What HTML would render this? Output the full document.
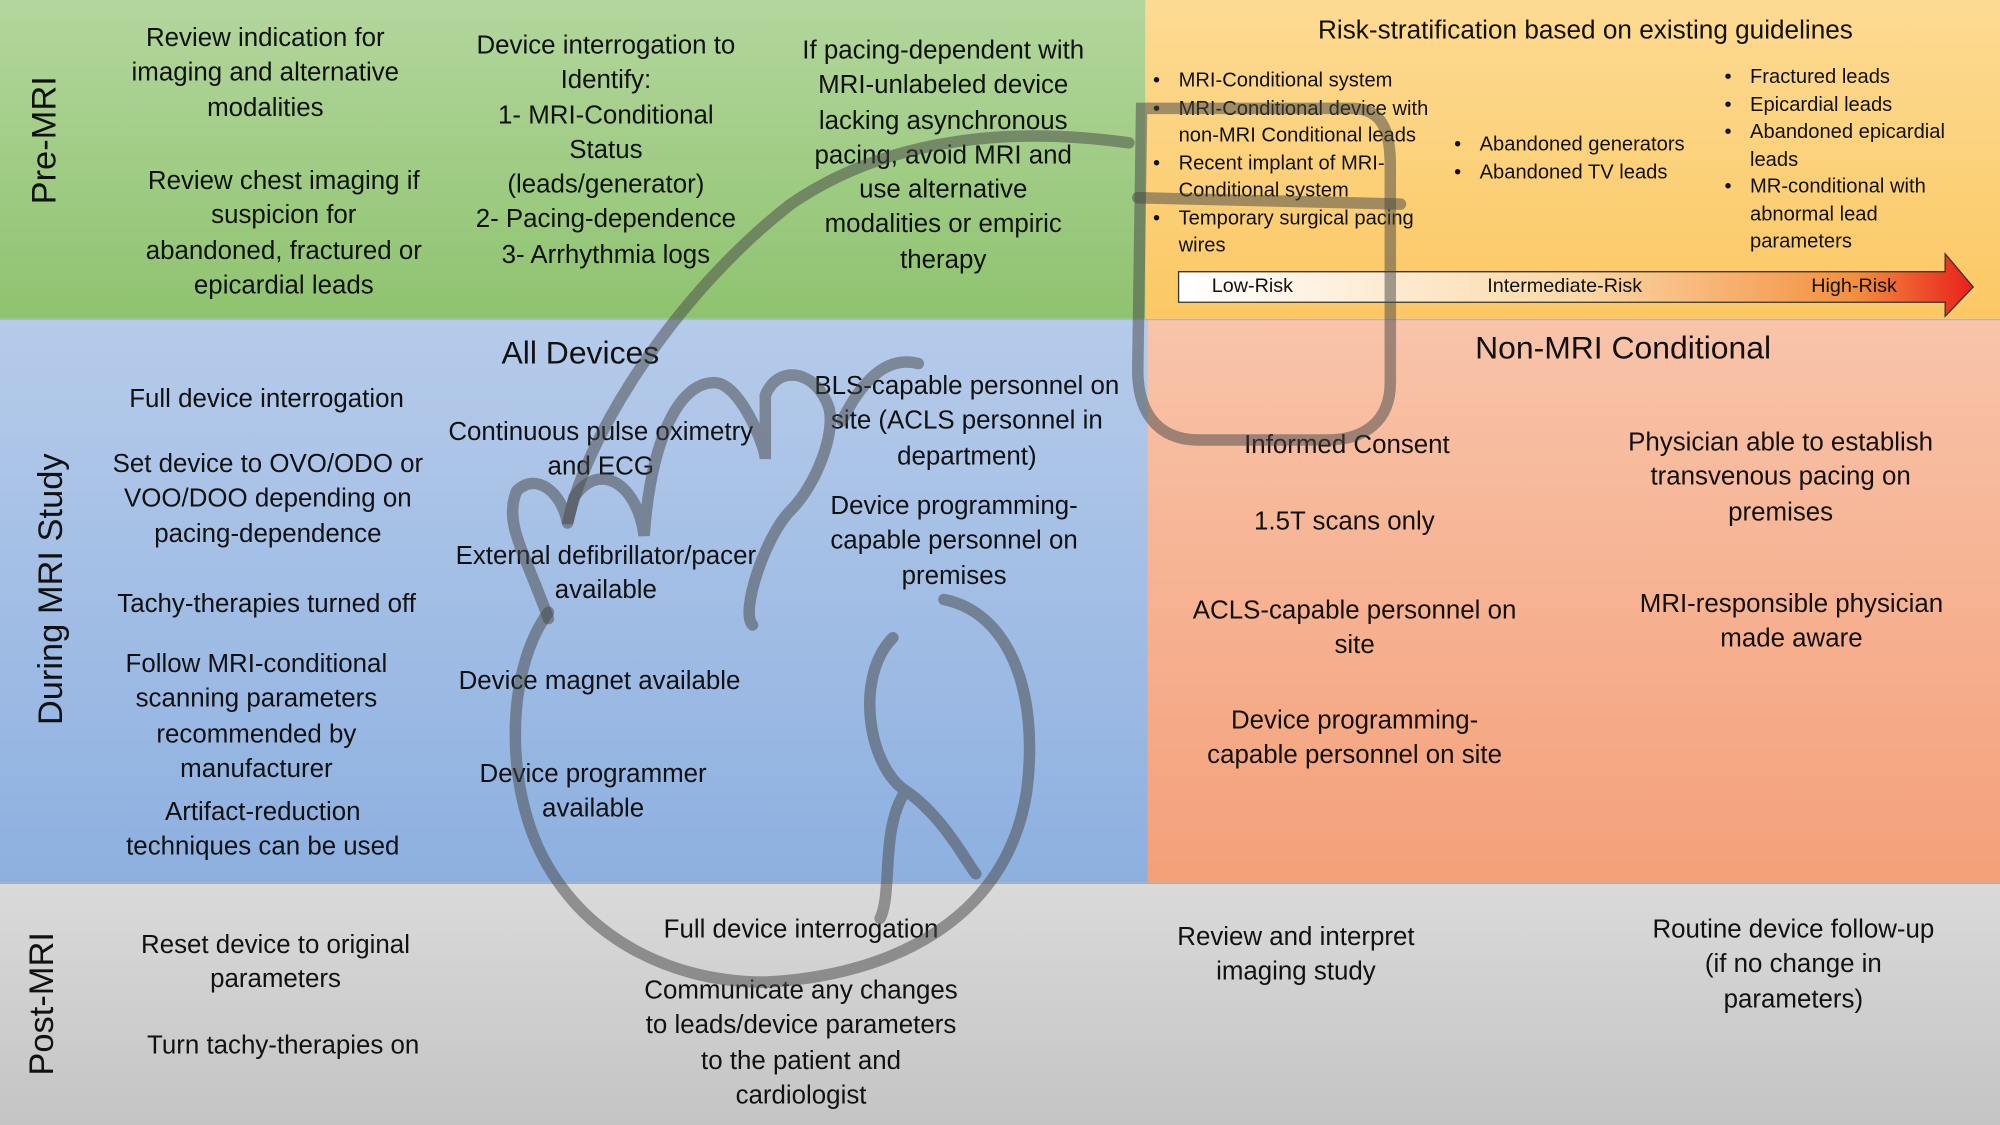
<!DOCTYPE html>
<html><head><meta charset="utf-8"><style>
html,body{margin:0;padding:0;width:2000px;height:1125px;overflow:hidden;background:#fff}
#c{position:absolute;left:0;top:0;width:1568px;height:882px;transform:scale(1.27551);transform-origin:0 0;font-family:"Liberation Sans",sans-serif;color:#111}
.r{position:absolute}
.t{position:absolute;text-align:center;font-size:20.3px;line-height:27.3px;white-space:nowrap}
.b{position:absolute;font-size:15.8px;line-height:21.5px;margin:0;padding-left:20px;list-style:none;white-space:nowrap}
.b li{position:relative}
.b li:before{content:"•";position:absolute;left:-20px}
.v{position:absolute;font-size:27px;transform:translate(-50%,-50%) rotate(-90deg);white-space:nowrap}
</style></head><body><div id="c">
<div class="r" style="left:0;top:0;width:898px;height:250px;background:linear-gradient(#b3d69d,#8fc36f)"></div>
<div class="r" style="left:898px;top:0;width:670px;height:250px;background:linear-gradient(#fddb93,#fbc864)"></div>
<div class="r" style="left:0;top:250px;width:900px;height:442px;background:linear-gradient(#b6cbea,#8db0e0)"></div>
<div class="r" style="left:900px;top:250px;width:668px;height:442px;background:linear-gradient(#f8c4aa,#f4a079)"></div>
<div class="r" style="left:0;top:692px;width:1568px;height:190px;background:linear-gradient(#dadada,#c4c4c4)"></div>
<div class="r" style="left:0;top:250px;width:1568px;height:1px;background:#9fb9d9"></div>
<div class="r" style="left:0;top:692px;width:1568px;height:1px;background:#a8a8a8"></div>

<div class="v" style="left:35px;top:110px">Pre-MRI</div>
<div class="v" style="left:40px;top:462px">During MRI Study</div>
<div class="v" style="left:33px;top:787px">Post-MRI</div>

<div class="t" style="left:88px;top:17px;width:240px">Review indication for<br>imaging and alternative<br>modalities</div>
<div class="t" style="left:100px;top:129px;width:245px">Review chest imaging if<br>suspicion for<br>abandoned, fractured or<br>epicardial leads</div>
<div class="t" style="left:355px;top:23px;width:240px">Device interrogation to<br>Identify:<br>1- MRI-Conditional<br>Status<br>(leads/generator)<br>2- Pacing-dependence<br>3- Arrhythmia logs</div>
<div class="t" style="left:612px;top:27px;width:255px">If pacing-dependent with<br>MRI-unlabeled device<br>lacking asynchronous<br>pacing, avoid MRI and<br>use alternative<br>modalities or empiric<br>therapy</div>

<div class="t" style="left:900px;top:10px;width:686px;font-size:20.5px">Risk-stratification based on existing guidelines</div>
<ul class="b" style="left:904px;top:53px;width:220px"><li>MRI-Conditional system</li><li>MRI-Conditional device with<br>non-MRI Conditional leads</li><li>Recent implant of MRI-<br>Conditional system</li><li>Temporary surgical pacing<br>wires</li></ul>
<ul class="b" style="left:1140px;top:103px;width:200px"><li>Abandoned generators</li><li>Abandoned TV leads</li></ul>
<ul class="b" style="left:1352px;top:50px;width:200px"><li>Fractured leads</li><li>Epicardial leads</li><li>Abandoned epicardial<br>leads</li><li>MR-conditional with<br>abnormal lead<br>parameters</li></ul>
<svg class="r" style="left:0;top:0" width="1568" height="882">
<defs><linearGradient id="g" x1="0" x2="1"><stop offset="0" stop-color="#fff"/><stop offset="0.5" stop-color="#fbd9a8"/><stop offset="0.85" stop-color="#f39040"/><stop offset="1" stop-color="#e8201a"/></linearGradient></defs>
<polygon points="924,213 1525,213 1525,199 1547,225 1525,248 1525,237 924,237" fill="url(#g)" stroke="#333" stroke-width="1"/>
</svg>
<div class="r" style="left:950px;top:216px;font-size:15.5px">Low-Risk</div>
<div class="r" style="left:1166px;top:216px;font-size:15.5px">Intermediate-Risk</div>
<div class="r" style="left:1420px;top:216px;font-size:15.5px">High-Risk</div>

<div class="t" style="left:355px;top:264px;width:200px;font-size:25px">All Devices</div>
<div class="t" style="left:1100px;top:260px;width:345px;font-size:25px">Non-MRI Conditional</div>

<div class="t" style="left:80px;top:300px;width:258px">Full device interrogation</div>
<div class="t" style="left:80px;top:351px;width:260px">Set device to OVO/ODO or<br>VOO/DOO depending on<br>pacing-dependence</div>
<div class="t" style="left:78px;top:461px;width:262px">Tachy-therapies turned off</div>
<div class="t" style="left:80px;top:508px;width:242px">Follow MRI-conditional<br>scanning parameters<br>recommended by<br>manufacturer</div>
<div class="t" style="left:80px;top:624px;width:252px">Artifact-reduction<br>techniques can be used</div>

<div class="t" style="left:340px;top:326px;width:262px">Continuous pulse oximetry<br>and ECG</div>
<div class="t" style="left:340px;top:423px;width:270px">External defibrillator/pacer<br>available</div>
<div class="t" style="left:340px;top:521px;width:260px">Device magnet available</div>
<div class="t" style="left:350px;top:594px;width:230px">Device programmer<br>available</div>
<div class="t" style="left:632px;top:290px;width:252px">BLS-capable personnel on<br>site (ACLS personnel in<br>department)</div>
<div class="t" style="left:632px;top:384px;width:232px">Device programming-<br>capable personnel on<br>premises</div>

<div class="t" style="left:940px;top:336px;width:232px">Informed Consent</div>
<div class="t" style="left:940px;top:396px;width:228px">1.5T scans only</div>
<div class="t" style="left:930px;top:466px;width:264px">ACLS-capable personnel on<br>site</div>
<div class="t" style="left:930px;top:552px;width:264px">Device programming-<br>capable personnel on site</div>
<div class="t" style="left:1262px;top:334px;width:268px">Physician able to establish<br>transvenous pacing on<br>premises</div>
<div class="t" style="left:1272px;top:461px;width:265px">MRI-responsible physician<br>made aware</div>

<div class="t" style="left:96px;top:728px;width:240px">Reset device to original<br>parameters</div>
<div class="t" style="left:96px;top:807px;width:252px">Turn tachy-therapies on</div>
<div class="t" style="left:498px;top:716px;width:260px">Full device interrogation</div>
<div class="t" style="left:495px;top:764px;width:266px">Communicate any changes<br>to leads/device parameters<br>to the patient and<br>cardiologist</div>
<div class="t" style="left:900px;top:722px;width:232px">Review and interpret<br>imaging study</div>
<div class="t" style="left:1272px;top:716px;width:268px">Routine device follow-up<br>(if no change in<br>parameters)</div>

<svg class="r" style="left:0;top:0" width="1568" height="882" fill="none" stroke="rgba(70,70,70,0.5)" stroke-width="9" stroke-linecap="round">
<path d="M430,485 C410,430 395,410 405,385 C420,370 440,385 445,410 L450,390 C470,360 500,380 505,420 C510,350 530,300 560,300 C580,300 600,350 600,360 L600,310 C610,285 640,290 650,320 C655,340 640,380 620,400 C600,420 580,480 590,490"/>
<path d="M430,480 C400,520 395,600 420,660 C450,730 520,770 600,770 C700,765 790,720 805,620 C815,540 790,480 740,470"/>
<path d="M445,410 C460,340 530,230 620,160 C700,105 800,100 885,112"/>
<path d="M660,330 C680,290 700,280 720,285"/>
<path d="M700,500 C670,530 680,600 710,620 M710,620 C740,640 760,680 765,685 M710,620 C690,650 700,700 690,720"/>
<path d="M895,85 L1060,85 C1085,85 1090,105 1090,130 L1090,300 C1090,330 1070,345 1040,345 L940,345 C905,345 892,320 892,290 Z"/>
<path d="M892,155 L1098,160"/>
</svg>
</div></body></html>
